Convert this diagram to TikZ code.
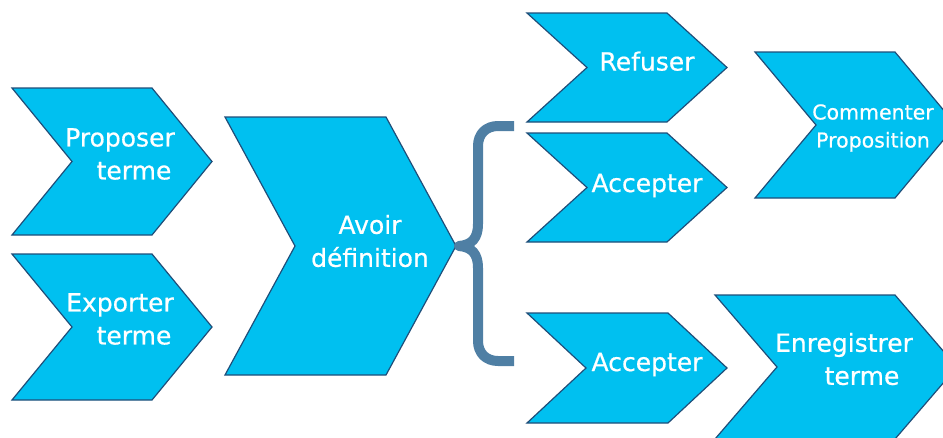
\documentclass[tikz,border=0pt]{standalone}
\usepackage{fontspec}
\setmainfont{DejaVu Sans}
\newfontfamily\lblfont{DejaVu Sans}[FakeBold=0.6]
\definecolor{chevfill}{RGB}{0,192,240}
\definecolor{chevline}{RGB}{31,78,121}
\definecolor{braceblue}{RGB}{79,127,164}
\tikzset{
  chevbox/.style={fill=chevfill, draw=chevline, line width=1.2pt, line join=miter},
  lbl/.style={text=white, font=\lblfont\fontsize{25}{33}\selectfont, inner sep=0pt, align=center},
  bracestyle/.style={draw=braceblue, line width=10pt, line join=round}
}
% #1 left x, #2 top y, #3 width (left to tip), #4 height, #5 notch/tip depth
\newcommand\mychev[5]{%
  \draw[chevbox] (#1,#2) -- ++({#3-#5},0) -- ++(#5,{#4/2}) -- ++(-#5,{#4/2})
    -- ++({-(#3-#5)},0) -- ++(#5,{-#4/2}) -- cycle;}
\begin{document}
\begin{tikzpicture}[x=1pt,y=-1pt]
  \path[use as bounding box] (0,0) rectangle (943,437);
  \clip (0,0) rectangle (943,437);
  % chevrons
  \mychev{12}{88}{200}{147}{60}
  \mychev{12}{254}{200}{146}{60}
  \mychev{225}{117}{231}{258}{70}
  \mychev{527}{13}{200}{109}{60}
  \mychev{527}{133}{200}{109}{60}
  \mychev{755}{52}{201}{146}{61}
  \mychev{527}{313}{200}{110}{59}
  \mychev{715}{295}{242}{144}{62}
  % labels
  \node[lbl] (proposer) at (120,154) {Proposer\\\hspace*{28pt}terme};
  \node[lbl] (exporter) at (120,319) {Exporter\\\hspace*{28pt}terme};
  \node[lbl] (avoir) at (370,241) {Avoir\\définition};
  \node[lbl,anchor=base] (refuser) at (647,70.5) {Refuser};
  \node[lbl,anchor=base] (accepterA) at (647,192) {Accepter};
  \node[lbl,anchor=base] (accepterB) at (647,371) {Accepter};
  \node[lbl,font=\lblfont\fontsize{20.5}{28}\selectfont] (commenter) at (873,128) {Commenter\\Proposition};
  \node[lbl] (enregistrer) at (844,359) {Enregistrer\\\hspace*{36pt}terme};
  % brace
  \coordinate (avtip) at (459,246);
  \coordinate (bracetop) at (514,126);
  \coordinate (bracebot) at (514,361);
  \draw[bracestyle] (bracetop) -- (498,126) .. controls (486,126) and (478,134) .. (478,146)
    -- (478,224) .. controls (478,238) and (472,245) .. (avtip)
    .. controls (472,247) and (478,254) .. (478,268)
    -- (478,341) .. controls (478,353) and (486,361) .. (498,361) -- (bracebot);
\end{tikzpicture}
\end{document}
